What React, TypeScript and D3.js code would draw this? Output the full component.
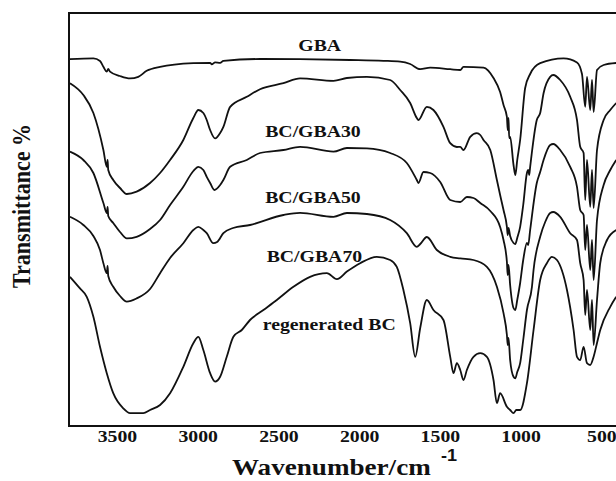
import React from "react";
import * as d3 from "d3";

// FTIR spectra, [wavenumber cm-1, transmittance (offset, a.u.)]
const gba: [number, number][] = [
  [3794, 91.7], [3649, 91.9], [3608, 91.25], [3587, 89.8], [3566, 88.6], [3557, 89.25],
  [3546, 88.6], [3484, 87.5], [3422, 86.9], [3371, 87.3], [3319, 88.8], [3236, 89.8],
  [3030, 90.7], [2926, 90.8], [2916, 90.4], [2895, 90.9], [2864, 90.8], [2844, 91.3],
  [2617, 91.75], [2369, 91.7], [2059, 91.5], [1853, 91.3], [1749, 91.1], [1687, 90.5],
  [1625, 89.2], [1563, 89.6], [1439, 89.2], [1377, 89.0], [1357, 89.8], [1233, 89.6],
  [1171, 87.0], [1130, 83.5], [1109, 80.25], [1088, 77.3], [1083, 74.0], [1078, 77],
  [1074, 72], [1068, 72.3], [1047, 65.25], [1036, 62.75], [1024, 66.5], [1006, 71.5],
  [975, 84.5], [944, 88], [882, 90.7], [737, 91.9], [654, 90.9], [623, 88], [603, 79.8],
  [592, 87.3], [572, 79], [561, 86.5], [551, 78.5], [530, 89], [489, 90.25], [411, 90.75],
];

const bcGba30: [number, number][] = [
  [3794, 85.7], [3711, 82.75], [3649, 78.25], [3587, 69], [3566, 64.8], [3561, 66.5],
  [3557, 64], [3526, 61.5], [3484, 59.5], [3442, 58], [3381, 58.6], [3298, 60.75],
  [3236, 63.25], [3174, 66.5], [3092, 71.5], [3030, 77], [2999, 79], [2968, 78.25],
  [2947, 76.5], [2926, 74], [2895, 71.9], [2864, 73.25], [2844, 74.8], [2802, 79.8],
  [2699, 82.3], [2617, 84.2], [2472, 85.7], [2369, 86.9], [2162, 86.3], [2079, 87],
  [1955, 87.3], [1811, 86.5], [1749, 84], [1687, 80.75], [1646, 77], [1636, 76.5],
  [1584, 79.8], [1543, 79], [1481, 74.8], [1439, 70.7], [1398, 69.75], [1377, 69.8],
  [1357, 69], [1315, 72.3], [1274, 73.2], [1253, 72.75], [1233, 71.5], [1191, 69],
  [1150, 61.5], [1130, 57.75], [1109, 54], [1088, 49.8], [1083, 47.75], [1078, 49.5],
  [1068, 47.5], [1047, 45.75], [1036, 45.5], [1024, 47], [1006, 49.8], [987, 55.25],
  [964, 63.25], [956, 64], [950, 62.75], [944, 64.8], [903, 76.5], [882, 78.25],
  [861, 83.2], [820, 87.3], [801, 87.75], [758, 86.5], [696, 82.3], [654, 76.5],
  [634, 69.8], [613, 68.25], [603, 56.5], [592, 66.5], [572, 54.8], [561, 64],
  [551, 54.5], [530, 69], [489, 76.5], [448, 79], [411, 80.75],
];

const bcGba50: [number, number][] = [
  [3794, 68.6], [3711, 66.5], [3649, 63.25], [3587, 55.75], [3566, 53.25], [3561, 54.75],
  [3557, 52.5], [3526, 50.75], [3484, 48.5], [3442, 46.9], [3381, 47.3], [3298, 49.25],
  [3236, 51.5], [3174, 55.25], [3092, 59.8], [3030, 63.75], [2999, 64.8], [2968, 64],
  [2947, 62.3], [2926, 60.75], [2900, 59], [2864, 60.25], [2844, 61.5], [2802, 64.8],
  [2699, 66.5], [2617, 68.25], [2472, 69], [2369, 69.8], [2162, 68.6], [2079, 69.5],
  [1955, 69.4], [1811, 68.25], [1708, 65.75], [1646, 61.5], [1636, 60.75], [1605, 63.5],
  [1563, 63.25], [1501, 61], [1439, 56.5], [1377, 56], [1336, 57.25], [1295, 57],
  [1253, 55.75], [1191, 53.75], [1130, 49.75], [1109, 46.5], [1088, 41], [1083, 37.75],
  [1078, 40.25], [1068, 35.25], [1047, 29.5], [1036, 29], [1024, 31.5], [1006, 35.75],
  [987, 41.5], [964, 45.75], [956, 45.25], [944, 49], [903, 60.75], [882, 63.5],
  [861, 66.5], [820, 70.25], [801, 70.5], [758, 69], [696, 64.8], [654, 59.8],
  [634, 54], [613, 52.75], [603, 44], [592, 50.25], [572, 39], [561, 46.5],
  [551, 36.5], [530, 51.5], [489, 60.25], [448, 64], [411, 66.5],
];

const bcGba70: [number, number][] = [
  [3794, 52.3], [3711, 50.25], [3649, 47.5], [3608, 44], [3587, 40.7], [3566, 38.2],
  [3561, 40], [3557, 37.5], [3526, 34.8], [3484, 32.5], [3442, 31.1], [3381, 31.9],
  [3298, 34.25], [3236, 38.2], [3174, 42], [3092, 45.7], [3030, 49], [2999, 49.8],
  [2968, 49], [2947, 48.2], [2906, 45.7], [2883, 46], [2844, 48.2], [2784, 49.5],
  [2679, 50.25], [2472, 52.75], [2369, 53.3], [2162, 52.3], [2079, 53.25], [1955, 53],
  [1811, 51.5], [1708, 48.2], [1646, 44.8], [1625, 45.5], [1584, 47.25], [1522, 44],
  [1439, 42.3], [1377, 41.9], [1295, 41.5], [1212, 39.8], [1150, 34.8], [1109, 28.2],
  [1088, 22.75], [1083, 20.25], [1078, 22], [1068, 16.5], [1047, 12.3], [1036, 11.9],
  [1024, 13.5], [1006, 15.7], [987, 21.5], [964, 29], [933, 34.8], [923, 39],
  [882, 47.3], [851, 51], [820, 53.25], [801, 53.5], [758, 52.3], [696, 48.2],
  [654, 46.5], [634, 40.7], [613, 36.5], [603, 27.75], [592, 34], [572, 24],
  [561, 31.5], [551, 20.25], [530, 31.5], [510, 40.75], [468, 46.5], [411, 49],
];

const regeneratedBc: [number, number][] = [
  [3794, 37.3], [3732, 34.4], [3690, 32.3], [3649, 27.3], [3608, 19.8], [3566, 13.2],
  [3526, 8.2], [3464, 4.4], [3422, 3.2], [3340, 3.2], [3298, 4], [3236, 5.25],
  [3174, 8.2], [3092, 14.8], [3030, 20.7], [2999, 22.3], [2968, 19], [2926, 13.2],
  [2895, 11.1], [2864, 12.3], [2823, 17.3], [2782, 22.3], [2730, 24], [2679, 26.5],
  [2596, 29], [2513, 31.5], [2410, 34.8], [2307, 37.3], [2203, 38.2], [2141, 36.7],
  [2079, 38.6], [1997, 40.7], [1894, 42.3], [1811, 41.5], [1770, 39.8], [1729, 34],
  [1687, 25.7], [1656, 17.3], [1625, 24.5], [1584, 31.5], [1543, 29], [1481, 26.5],
  [1439, 17.3], [1419, 13.2], [1398, 15.7], [1377, 14], [1357, 11.5], [1336, 14],
  [1295, 17.3], [1253, 18.2], [1212, 17.3], [1171, 11.5], [1150, 5.7], [1130, 8.2],
  [1088, 4.8], [1068, 4], [1047, 3.2], [1030, 4], [1006, 4], [964, 10.7], [923, 24],
  [882, 36.5], [840, 40.75], [809, 42.3], [778, 41.5], [716, 34], [675, 24],
  [654, 17.3], [634, 16.5], [613, 19.8], [592, 15.7], [572, 15.25], [551, 17.3],
  [530, 20.75], [510, 24], [448, 29.8], [411, 32.3],
];

const series = [gba, bcGba30, bcGba50, bcGba70, regeneratedBc];
const seriesLabels = ["GBA", "BC/GBA30", "BC/GBA50", "BC/GBA70", "regenerated BC"];
// label anchor [wavenumber, transmittance]
const labelPos: [number, number][] = [
  [2380, 93.75], [2585, 72.25], [2585, 55.75], [2576, 41], [2600, 24],
];
const xTicks = [3500, 3000, 2500, 2000, 1500, 1000, 500];

const W = 616;
const H = 481;
const left = 69;
const top = 13;
const bottom = 426;
const serif = "'Liberation Serif', 'Times New Roman', serif";
const sx = 1.13; // the figure is slightly stretched horizontally

export default function App() {
  const x = d3.scaleLinear().domain([3800, 400]).range([left, 618]);
  const y = d3.scaleLinear().domain([0, 103.25]).range([bottom, top]);

  const line = d3
    .line<[number, number]>()
    .x((d) => x(d[0]))
    .y((d) => y(d[1]))
    .curve(d3.curveMonotoneX);

  return (
    <svg
      width={W}
      height={H}
      style={{ position: "absolute", left: 0, top: 0, background: "#fff" }}
    >
      {series.map((s, i) => (
        <path
          key={i}
          d={line(s) || ""}
          fill="none"
          stroke="#111"
          strokeWidth={1.8}
          strokeLinejoin="round"
        />
      ))}

      {/* frame */}
      <path
        d={`M${W + 5},${top}H${left}V${bottom}H${W + 5}`}
        fill="none"
        stroke="#111"
        strokeWidth={2}
      />

      {xTicks.map((t) => (
        <text
          key={t}
          transform={`translate(${x(t)},${441.5}) scale(${sx},1)`}
          textAnchor="middle"
          fontFamily={serif}
          fontWeight="bold"
          fontSize={17.5}
          fill="#111"
        >
          {t}
        </text>
      ))}

      {seriesLabels.map((l, i) => (
        <text
          key={l}
          transform={`translate(${x(labelPos[i][0])},${y(labelPos[i][1])}) scale(${sx},1)`}
          fontFamily={serif}
          fontWeight="bold"
          fontSize={17.5}
          fill="#111"
        >
          {l}
        </text>
      ))}

      <text
        transform={`translate(232,475) scale(${sx},1)`}
        fontFamily={serif}
        fontWeight="bold"
        fontSize={24}
        fill="#111"
      >
        Wavenumber/cm
      </text>
      <text
        transform={`translate(441,461) scale(${sx},1)`}
        fontFamily="'Liberation Sans', Arial, sans-serif"
        fontWeight="bold"
        fontSize={16}
        fill="#111"
      >
        -1
      </text>

      <text
        transform={`translate(30,206) scale(${sx},1) rotate(-90)`}
        textAnchor="middle"
        fontFamily={serif}
        fontWeight="bold"
        fontSize={22}
        fill="#111"
      >
        Transmittance %
      </text>
    </svg>
  );
}
